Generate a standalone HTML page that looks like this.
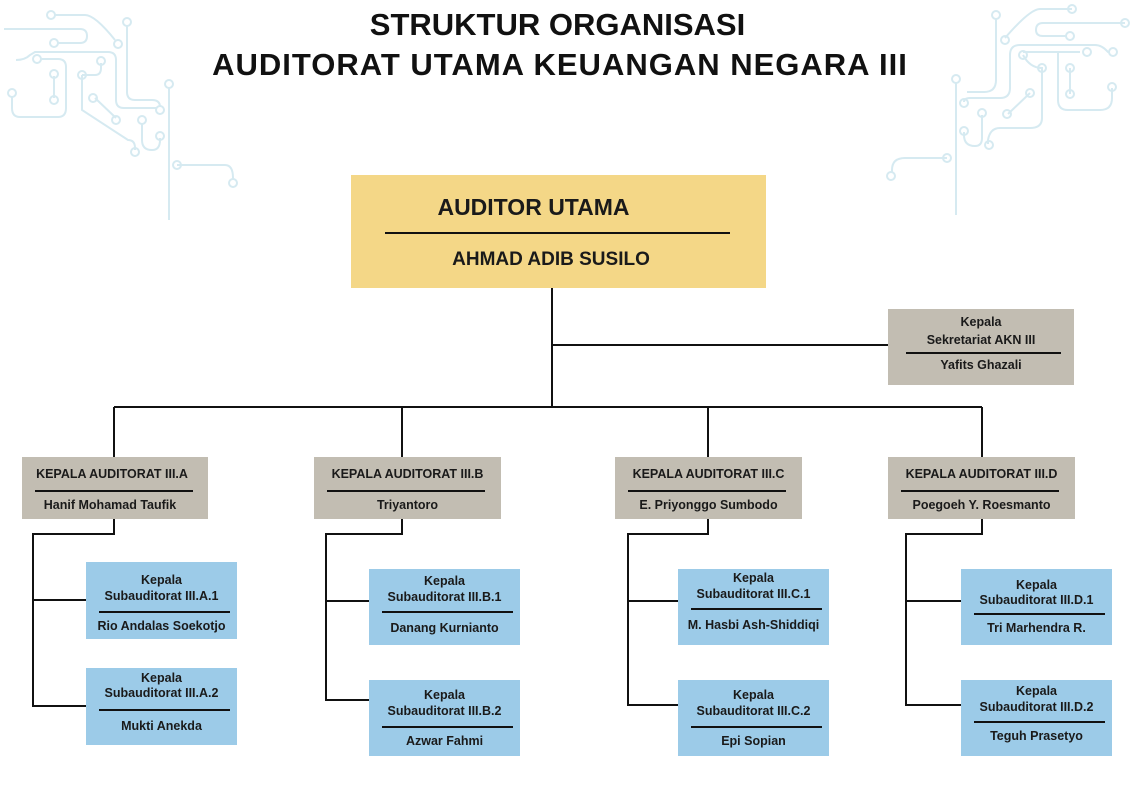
<!DOCTYPE html>
<html><head><meta charset="utf-8"><style>
body{margin:0;width:1130px;height:791px;background:#fff;position:relative;overflow:hidden;font-family:"Liberation Sans",Arial,sans-serif;font-weight:bold;color:#1a1a1a}
.b{position:absolute;box-sizing:border-box;text-align:center}
.t{position:absolute;left:0;right:0;text-align:center;white-space:nowrap}
.hr{position:absolute;height:2px;background:#111}
.g{background:#c2bdb2}.bl{background:#9ccbe8}
.k .t{font-size:12.5px}
.s .t{font-size:12.5px}
svg{position:absolute;left:0;top:0}
</style></head><body>
<svg width="1130" height="791">
<g fill="none" stroke="#d6eaf1" stroke-width="2">
<path d="M169 88V220M177 165H225Q233 165 233 178V180"/>
<path d="M55 15H85Q95 15 115 40M4 29H80Q87 29 87 36Q87 43 80 43H58M127 26V92Q127 100 135 100H152Q160 100 160 107"/>
<path d="M16 60Q25 60 30 55L35 52H108Q116 52 116 60V100Q116 108 124 108H156"/>
<path d="M40 59H58Q66 59 66 67V108Q66 117 58 117H20Q12 117 12 108V96M54 76V98M82 75H95Q101 75 101 68V63"/>
<path d="M82 75V110L128 140Q135 140 135 148V150M95 98L116 118M142 123V140Q142 150 152 150Q160 150 160 140V138"/>
<circle cx="51" cy="15" r="4"/><circle cx="118" cy="44" r="4"/><circle cx="54" cy="43" r="4"/><circle cx="127" cy="22" r="4"/><circle cx="160" cy="110" r="4"/><circle cx="169" cy="84" r="4"/><circle cx="177" cy="165" r="4"/><circle cx="233" cy="183" r="4"/><circle cx="12" cy="93" r="4"/><circle cx="54" cy="74" r="4"/><circle cx="54" cy="100" r="4"/><circle cx="82" cy="75" r="4"/><circle cx="101" cy="61" r="4"/><circle cx="93" cy="98" r="4"/><circle cx="116" cy="120" r="4"/><circle cx="142" cy="120" r="4"/><circle cx="160" cy="136" r="4"/><circle cx="135" cy="152" r="4"/><circle cx="37" cy="59" r="4"/>
<path d="M956 82V215M947 158H905Q892 158 892 170V172"/>
<path d="M996 18V80Q996 92 984 92H967M1072 9H1040Q1030 9 1005 38M1125 23H1043Q1036 23 1036 30Q1036 36 1043 36H1067"/>
<path d="M964 102Q964 98 970 98H1000Q1010 98 1010 88V55Q1010 45 1020 45H1095Q1102 45 1108 52H1110"/>
<path d="M1023 52H1080Q1060 52 1058 52Q1058 52 1058 60V100Q1058 110 1068 110H1100Q1112 110 1112 98V88M1070 68V94M1023 55Q1030 68 1042 68V118Q1042 128 1030 128H1000Q990 128 988 140V144M1030 93L1008 114M982 115V138Q982 146 975 146Q964 146 964 135V132"/>
<circle cx="996" cy="15" r="4"/><circle cx="1072" cy="9" r="4"/><circle cx="1005" cy="40" r="4"/><circle cx="1125" cy="23" r="4"/><circle cx="1070" cy="36" r="4"/><circle cx="964" cy="103" r="4"/><circle cx="1113" cy="52" r="4"/><circle cx="1087" cy="52" r="4"/><circle cx="1023" cy="55" r="4"/><circle cx="1042" cy="68" r="4"/><circle cx="1070" cy="68" r="4"/><circle cx="1070" cy="94" r="4"/><circle cx="1112" cy="87" r="4"/><circle cx="1030" cy="93" r="4"/><circle cx="1007" cy="114" r="4"/><circle cx="982" cy="113" r="4"/><circle cx="964" cy="131" r="4"/><circle cx="989" cy="145" r="4"/><circle cx="956" cy="79" r="4"/><circle cx="947" cy="158" r="4"/><circle cx="891" cy="176" r="4"/>
</g>
<g fill="none" stroke="#111" stroke-width="2">
<path d="M552 288V407M552 345H888M114 407H982M114 407V457M402 407V457M708 407V457M982 407V457"/>
<path d="M114 519V534H33V706H86M33 600H86"/>
<path d="M402 519V534H326V700H369M326 601H369"/>
<path d="M708 519V534H628V705H678M628 601H678"/>
<path d="M982 519V534H906V705H961M906 601H961"/>
</g>
</svg>
<div class="t" style="top:7px;font-size:31px;left:0;width:1115px;color:#111">STRUKTUR ORGANISASI</div>
<div class="t" style="top:47px;font-size:31px;left:0;width:1120px;color:#111;letter-spacing:1px">AUDITORAT UTAMA KEUANGAN NEGARA III</div>

<div class="b" style="left:351px;top:175px;width:415px;height:113px;background:#f4d787">
<div class="t" style="top:19px;font-size:23px;width:365px">AUDITOR UTAMA</div>
<div class="hr" style="left:34px;top:57px;width:345px"></div>
<div class="t" style="top:74px;font-size:19px;width:400px">AHMAD ADIB SUSILO</div></div>

<div class="b g s" style="left:888px;top:309px;width:186px;height:76px">
<div class="t" style="top:6px">Kepala</div><div class="t" style="top:24px">Sekretariat AKN III</div>
<div class="hr" style="left:18px;top:43px;width:155px"></div><div class="t" style="top:49px">Yafits Ghazali</div></div>

<div class="b g k" style="left:22px;top:457px;width:186px;height:62px"><div class="t" style="top:10px;left:-6px">KEPALA AUDITORAT III.A</div><div class="hr" style="left:13px;top:33px;width:158px"></div><div class="t" style="top:41px;left:-10px">Hanif Mohamad Taufik</div></div>
<div class="b g k" style="left:314px;top:457px;width:187px;height:62px"><div class="t" style="top:10px">KEPALA AUDITORAT III.B</div><div class="hr" style="left:13px;top:33px;width:158px"></div><div class="t" style="top:41px">Triyantoro</div></div>
<div class="b g k" style="left:615px;top:457px;width:187px;height:62px"><div class="t" style="top:10px">KEPALA AUDITORAT III.C</div><div class="hr" style="left:13px;top:33px;width:158px"></div><div class="t" style="top:41px">E. Priyonggo Sumbodo</div></div>
<div class="b g k" style="left:888px;top:457px;width:187px;height:62px"><div class="t" style="top:10px">KEPALA AUDITORAT III.D</div><div class="hr" style="left:13px;top:33px;width:158px"></div><div class="t" style="top:41px">Poegoeh Y. Roesmanto</div></div>

<div class="b bl s" style="left:86px;top:562px;width:151px;height:77px"><div class="t" style="top:11px">Kepala</div><div class="t" style="top:27px">Subauditorat III.A.1</div><div class="hr" style="left:13px;top:49px;width:131px"></div><div class="t" style="top:57px">Rio Andalas Soekotjo</div></div>
<div class="b bl s" style="left:86px;top:668px;width:151px;height:77px"><div class="t" style="top:3px">Kepala</div><div class="t" style="top:18px">Subauditorat III.A.2</div><div class="hr" style="left:13px;top:41px;width:131px"></div><div class="t" style="top:51px">Mukti Anekda</div></div>

<div class="b bl s" style="left:369px;top:569px;width:151px;height:76px"><div class="t" style="top:5px">Kepala</div><div class="t" style="top:21px">Subauditorat III.B.1</div><div class="hr" style="left:13px;top:42px;width:131px"></div><div class="t" style="top:52px">Danang Kurnianto</div></div>
<div class="b bl s" style="left:369px;top:680px;width:151px;height:76px"><div class="t" style="top:8px">Kepala</div><div class="t" style="top:24px">Subauditorat III.B.2</div><div class="hr" style="left:13px;top:46px;width:131px"></div><div class="t" style="top:54px">Azwar Fahmi</div></div>

<div class="b bl s" style="left:678px;top:569px;width:151px;height:76px"><div class="t" style="top:2px">Kepala</div><div class="t" style="top:18px">Subauditorat III.C.1</div><div class="hr" style="left:13px;top:39px;width:131px"></div><div class="t" style="top:49px">M. Hasbi Ash-Shiddiqi</div></div>
<div class="b bl s" style="left:678px;top:680px;width:151px;height:76px"><div class="t" style="top:8px">Kepala</div><div class="t" style="top:24px">Subauditorat III.C.2</div><div class="hr" style="left:13px;top:46px;width:131px"></div><div class="t" style="top:54px">Epi Sopian</div></div>

<div class="b bl s" style="left:961px;top:569px;width:151px;height:76px"><div class="t" style="top:9px">Kepala</div><div class="t" style="top:24px">Subauditorat III.D.1</div><div class="hr" style="left:13px;top:44px;width:131px"></div><div class="t" style="top:52px">Tri Marhendra R.</div></div>
<div class="b bl s" style="left:961px;top:680px;width:151px;height:76px"><div class="t" style="top:4px">Kepala</div><div class="t" style="top:20px">Subauditorat III.D.2</div><div class="hr" style="left:13px;top:41px;width:131px"></div><div class="t" style="top:49px">Teguh Prasetyo</div></div>
</body></html>
